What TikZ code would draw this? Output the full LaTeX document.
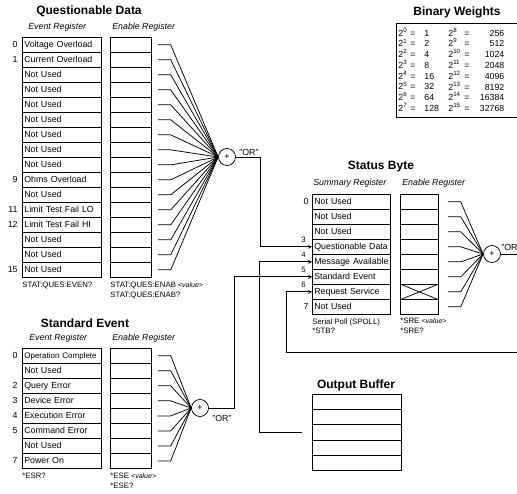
\documentclass[tikz,border=0pt]{standalone}
\usepackage{fontspec}
\setmainfont{Liberation Sans}
\usetikzlibrary{
    arrows,
    calc,
    positioning
}
\tikzstyle{arrow}=[->,>=stealth]

\begin{document}
\begin{tikzpicture}[
    x=1pt, y=-1pt,
    line width=0.75pt,
    every node/.style={font=\fontsize{8.8}{10}\selectfont, inner sep=0pt},
    title/.style={font=\fontsize{12}{14}\selectfont\bfseries},
    subhead/.style={font=\fontsize{8.8}{10}\selectfont\itshape, anchor=west},
    cmd/.style={font=\fontsize{7.8}{9.5}\selectfont, anchor=north west, align=left},
    small/.style={font=\fontsize{7.8}{9}\selectfont},
    evreg/.style={
        draw,
        anchor=north west,
        text width=75pt,
        inner xsep=2pt,
        minimum height=15pt,
        text height=6.5pt,
        text depth=2pt,
        align=left
    },
    enreg/.style={
        draw,
        anchor=north west,
        minimum width=41pt,
        minimum height=15pt
    },
    orgate/.style={draw, circle, minimum size=17pt, fill=white}
]
\useasboundingbox (0,0) rectangle (517,494);

% Questionable Data
\node[title] (qtitle) at (89,11) {Questionable Data};
\node[subhead] (qevh) at (28,27) {Event Register};
\node[subhead] (qenh) at (112,27) {Enable Register};
\node[orgate] (qor) at (227,157) {+};
\node (qorl) at (249,152) {"OR"};
\foreach \t [count=\i from 0] in {Voltage Overload, Current Overload, Not Used,
    Not Used, Not Used, Not Used, Not Used, Not Used, Not Used, Ohms Overload,
    Not Used, Limit Test Fail LO, Limit Test Fail HI, Not Used, Not Used, Not Used} {
    \node[evreg] (qe\i) at (22,37+15*\i) {\mbox{\t}};
    \node[enreg] (qn\i) at (110,37+15*\i) {};
    \draw ([xshift=6pt]qn\i.east) -- ++(13,0) -- (qor.west);
}
\foreach \b in {0,1,9,11,12,15}
    \node[left=4pt of qe\b] (qb\b) {\b};
\node[cmd] (qevc) at (22,282) {STAT:QUES:EVEN?};
\node[cmd] (qenc) at (110,282) {STAT:QUES:ENAB {\fontsize{7}{9}\selectfont\itshape <value>}\\STAT:QUES:ENAB?};

% Binary Weights
\node[title] (btitle) at (457,12) {Binary Weights};
\draw (396,23) rectangle (522,117);
\foreach \e/\v [count=\i from 0] in {0/1,1/2,2/4,3/8,4/16,5/32,6/64,7/128}
    \node[anchor=west] (bwa\i) at (398,32+10.8*\i)
        {\makebox[12pt][l]{2\textsuperscript{\e}}\makebox[14pt][l]{=}\v};
\foreach \e/\v [count=\i from 0] in {8/256,9/512,10/1024,11/2048,12/4096,13/8192,14/16384,15/32768}
    \node[anchor=west] (bwb\i) at (448,32+10.8*\i)
        {\makebox[16pt][l]{2\textsuperscript{\e}}\makebox[10pt][l]{=}\makebox[30pt][r]{\v}};

% Status Byte
\node[title] (stitle) at (381,167) {Status Byte};
\node[subhead] (ssuh) at (313,183) {Summary Register};
\node[subhead] (senh) at (402,183) {Enable Register};
\node[orgate] (sor) at (492,254) {+};
\node[anchor=west] (sorl) at (501,247) {"OR"};
\foreach \t [count=\i from 0] in {Not Used, Not Used, Not Used, Questionable Data,
    Message Available, Standard Event, Request Service, Not Used} {
    \node[evreg, text width=74pt] (s\i) at (312,194+15*\i) {\mbox{\t}};
    \node[enreg, minimum width=38pt] (se\i) at (400,194+15*\i) {};
    \draw ([xshift=9pt]se\i.east) -- ++(13,0) -- (sor.west);
}
\draw (se6.north west) -- (se6.south east);
\draw (se6.south west) -- (se6.north east);
\foreach \b in {0,7}
    \node[left=3pt of s\b] (sb\b) {\b};
\foreach \b in {3,4,5,6}
    \node[small, above left=4pt and 6pt of s\b.west] (sb\b) {\b};
\node[cmd] (ssuc) at (312,318) {Serial Poll (SPOLL)\\*STB?};
\node[cmd] (senc) at (400,318) {*SRE {\fontsize{7}{9}\selectfont\itshape <value>}\\*SRE?};

% Standard Event
\node[title] (etitle) at (85,323) {Standard Event};
\node[subhead] (eevh) at (29,338) {Event Register};
\node[subhead] (eenh) at (112,338) {Enable Register};
\node[orgate] (eor) at (200,408) {+};
\node (eorl) at (222,418) {"OR"};
\foreach \t [count=\i from 0] in {{\fontsize{8}{9}\selectfont Operation Complete}, Not Used,
    Query Error, Device Error, Execution Error, Command Error, Not Used, Power On} {
    \node[evreg] (e\i) at (22,348+15*\i) {\mbox{\t}};
    \node[enreg] (en\i) at (110,348+15*\i) {};
    \draw ([xshift=6pt]en\i.east) -- ++(13,0) -- (eor.west);
}
\foreach \b in {0,2,3,4,5,7}
    \node[left=4pt of e\b] (eb\b) {\b};
\node[cmd] (eevc) at (22,473) {*ESR?};
\node[cmd] (eenc) at (110,473) {*ESE {\fontsize{7}{9}\selectfont\itshape <value>}\\*ESE?};

% Output Buffer
\node[title] (otitle) at (356,385) {Output Buffer};
\foreach \i in {0,...,4}
    \node[draw, anchor=north west, minimum width=89pt, minimum height=15.2pt] (ob\i) at (312,394+15.2*\i) {};
\coordinate (obuf) at ([xshift=-10pt]ob2.west);
\coordinate (loop) at (286,352);

% summary lines
\draw[arrow] (qor.east) -- ++(24,0) |- (s3.west);
\draw[arrow] (obuf) -- ++(-43,0) |- (s4.west);
\draw[arrow] (eor.east) -- ++(25,0) |- (s5.west);
\draw[arrow] (sor.east) -- ++(30,0) |- (loop) |- (s6.west);
\end{tikzpicture}
\end{document}
